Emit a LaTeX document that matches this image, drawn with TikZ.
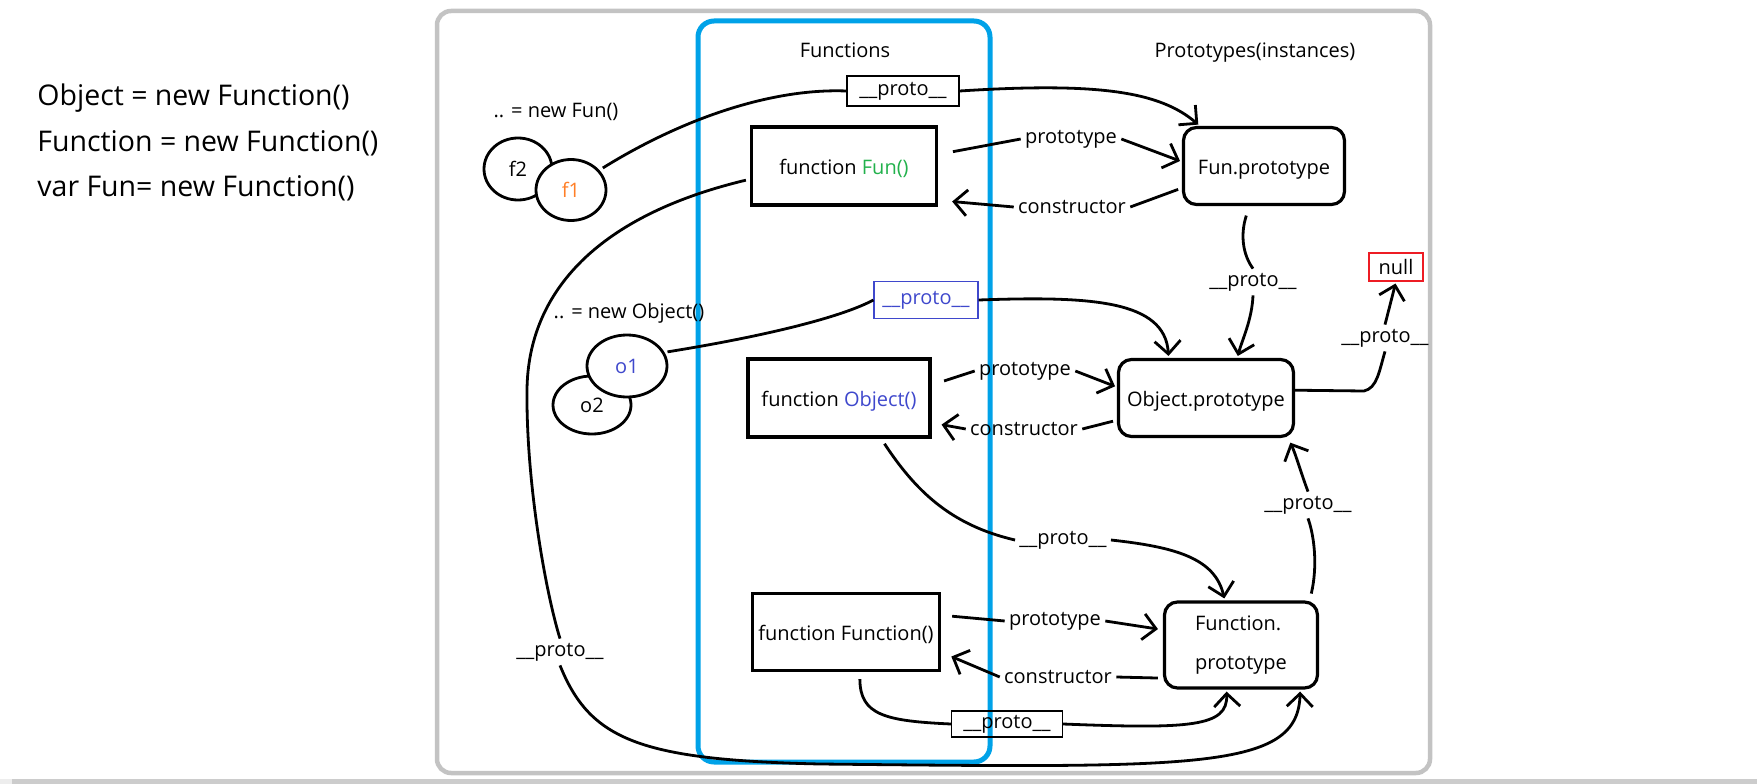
\documentclass[tikz,border=0pt]{standalone}
\usepackage{fontspec}
\setmainfont{Open Sans}
\usepackage{xcolor}
\usetikzlibrary{arrows.meta, positioning, calc, shapes.geometric}

\definecolor{fungreen}{RGB}{34,177,76}
\definecolor{funorange}{RGB}{255,127,39}
\definecolor{objblue}{RGB}{63,72,204}
\definecolor{fnblue}{RGB}{0,162,232}
\definecolor{nullred}{RGB}{237,28,36}
\definecolor{framegray}{RGB}{195,195,195}

\begin{document}
\begin{tikzpicture}[x=1pt, y=-1pt, line width=2.8pt,
    >={Straight Barb[length=13pt, width=26pt]},
    txt/.style={font=\fontsize{20}{24}\selectfont, inner sep=3pt},
    note/.style={font=\fontsize{28.5}{32}\selectfont, inner sep=3pt},
    oneline/.style={text height=18pt, text depth=1pt},
    fnbox/.style={txt, oneline, draw, line width=3.4pt, minimum height=78pt},
    protobox/.style={txt, draw, line width=3.2pt, rounded corners=13pt, minimum height=77pt},
    tagbox/.style={txt, draw, line width=1.2pt, inner sep=2pt},
    blob/.style={txt, draw, ellipse, fill=white, inner sep=0pt},
    link/.style={->, shorten >=2pt}]

  % Frame and bottom strip
  \useasboundingbox (0,0) rectangle (1757,784);
  \fill[black!7] (0,779) rectangle (12,784);
  \fill[black!20] (12,779) rectangle (1757,784);
  \draw[framegray, line width=4.5pt, rounded corners=14pt] (437,11) rectangle (1430,773);
  \draw[fnblue, line width=5pt, rounded corners=16pt] (698,21) rectangle (990,762);

  % Headings
  \node[txt] (hfun) at (845,50) {Functions};
  \node[txt] (hproto) at (1255,53) {Prototypes(instances)};

  % Notes on the left
  \node[note, anchor=west] (n1) at (33,98) {Object = new Function()};
  \node[note, anchor=west] (n2) at (33,143) {Function = new Function()};
  \node[note, anchor=west] (n3) at (33,188) {var Fun= new Function()};

  % Functions
  \node[fnbox, minimum width=185pt] (funF) at (844,166) {function \textcolor{fungreen}{Fun()}};
  \node[fnbox, minimum width=182pt] (funO) at (839,398) {function \textcolor{objblue}{Object()}};
  \node[fnbox, minimum width=187pt, minimum height=77pt] (funFn) at (846,632) {function Function()};

  % Prototypes
  \node[protobox, oneline, minimum width=161pt] (protoF) at (1264,166) {Fun.prototype};
  \node[protobox, oneline, minimum width=175pt] (protoO) at (1206,398) {Object.prototype};
  \node[protobox, minimum width=153pt, minimum height=86pt, align=left,
        font=\fontsize{20}{39}\selectfont] (protoFn) at (1241,645) {Function.\\prototype};
  \node[tagbox, draw=nullred, minimum width=54pt, minimum height=28pt] (null) at (1396,267) {null};

  % Instances
  \node[txt] (newfun) at (556,112) {.. = new Fun()};
  \node[blob, minimum width=68pt, minimum height=62pt] (f2) at (518,169) {f2};
  \node[blob, minimum width=70pt, minimum height=61pt, text=funorange] (f1) at (571,190) {f1};
  \node[txt] (newobj) at (629,313) {.. = new Object()};
  \node[blob, minimum width=78pt, minimum height=58pt] (o2) at (592,405) {o2};
  \node[blob, minimum width=80pt, minimum height=62pt, text=objblue] (o1) at (627,366) {o1};

  % Boxed labels
  \node[tagbox, minimum width=112pt, minimum height=30pt] (tagF) at (903,91) {\_\_proto\_\_};
  \node[tagbox, draw=objblue, text=objblue, minimum width=104pt, minimum height=37pt] (tagO) at (926,300) {\_\_proto\_\_};
  \node[tagbox, minimum width=111pt, minimum height=26pt] (tagFn) at (1007,724) {\_\_proto\_\_};

  % Link labels
  \node[txt] (pF) at (1071,139) {prototype};
  \node[txt] (cF) at (1072,207) {constructor};
  \node[txt] (uFO) at (1253,282) {\_\_proto\_\_};
  \node[txt] (uON) at (1385,338) {\_\_proto\_\_};
  \node[txt] (pO) at (1025,371) {prototype};
  \node[txt] (cO) at (1024,429) {constructor};
  \node[txt] (uOFn) at (1063,540) {\_\_proto\_\_};
  \node[txt] (uFnO) at (1308,505) {\_\_proto\_\_};
  \node[txt] (pFn) at (1055,621) {prototype};
  \node[txt] (cFn) at (1058,677) {constructor};
  \node[txt] (uL) at (560,652) {\_\_proto\_\_};

  % f1 -> Fun.prototype
  \draw[shorten <=4pt] (f1.35) .. controls (680,120) and (770,88) .. (tagF.west);
  \draw[link] (tagF.east) .. controls (1100,82) and (1160,92) .. (protoF.148);

  % Fun() <-> Fun.prototype
  \draw[shorten <=15pt] (funF.7) -- (pF.west);
  \draw[link] (pF.east) -- (protoF.177);
  \draw[shorten <=4pt] (protoF.195) -- (cF.east);
  \draw[link, shorten >=14pt] (cF.west) -- (funF.-20);

  % Fun() -> Function.prototype (long way round)
  \draw[shorten <=4pt] (funF.188) .. controls (600,215) and (528,290) .. (527,390)
    .. controls (526,480) and (545,590) .. (uL.north);
  \draw[link] (uL.south) .. controls (590,740) and (640,760) .. (820,764)
    .. controls (1200,768) and (1298,770) .. (protoFn.-37);

  % o1 -> Object.prototype
  \draw[shorten <=3pt] (o1.20) .. controls (760,337) and (840,318) .. (tagO.west);
  \draw[link] (tagO.east) .. controls (1090,296) and (1165,300) .. (protoO.133);

  % Fun.prototype -> Object.prototype -> null
  \draw[shorten <=10pt] (protoF.-110) .. controls (1240,235) and (1243,255) .. (uFO.north);
  \draw[link] (uFO.south) .. controls (1252,320) and (1242,340) .. (protoO.52);
  \draw (protoO.5) -- (1364,391) .. controls (1377,388) and (1379,372) .. (uON.south);
  \draw[link] (uON.north) -- (null.south);

  % Object() <-> Object.prototype
  \draw[shorten <=13pt] (funO.8) -- (pO.west);
  \draw[link] (pO.east) -- (protoO.173);
  \draw[shorten <=4pt] (protoO.194) -- (cO.east);
  \draw[link, shorten >=10pt] (cO.west) -- (funO.-15);

  % Object() -> Function.prototype
  \draw[shorten <=6pt] (funO.-44) .. controls (915,490) and (950,525) .. (uOFn.west);
  \draw[link] (uOFn.east) .. controls (1175,547) and (1215,558) .. (protoFn.110);

  % Function.prototype -> Object.prototype
  \draw[shorten <=7pt] (protoFn.33) .. controls (1318,565) and (1314,535) .. (uFnO.south);
  \draw[link, shorten >=5pt] (uFnO.north) .. controls (1300,470) and (1296,455) .. (protoO.-26);

  % Function() <-> Function.prototype
  \draw[shorten <=11pt] (funFn.10) -- (pFn.west);
  \draw[link, shorten >=5pt] (pFn.east) -- (protoFn.169);
  \draw[shorten <=5pt] (protoFn.-157) -- (cFn.east);
  \draw[link, shorten >=11pt] (cFn.west) -- (funFn.-12);
  \draw[shorten <=7pt] (funFn.-71) .. controls (860,715) and (885,721) .. (tagFn.west);
  \draw[link] (tagFn.east) .. controls (1190,729) and (1228,727) .. (protoFn.-108);
\end{tikzpicture}
\end{document}
